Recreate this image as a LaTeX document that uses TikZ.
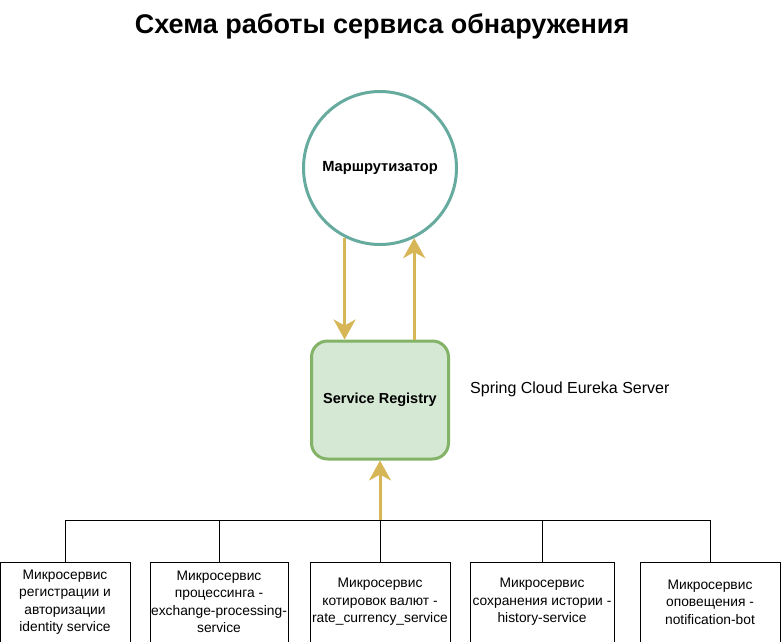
\documentclass[tikz,border=0pt]{standalone}
\usepackage{fontspec}
\setmainfont{Liberation Sans}
\usepackage{xcolor}
\usepackage{tikz}
\usetikzlibrary{positioning,arrows.meta}

\definecolor{routerline}{HTML}{67AB9F}
\definecolor{regfill}{HTML}{D5E8D4}
\definecolor{regline}{HTML}{82B366}
\definecolor{arrowgold}{HTML}{D6B656}

\begin{document}
\begin{tikzpicture}[
  x=1pt, y=-1pt,
  router/.style={draw=routerline, line width=3pt, circle, minimum size=153pt, inner sep=0pt,
    font=\fontsize{14.7}{16}\selectfont\bfseries},
  registry/.style={draw=regline, fill=regfill, line width=3pt, rounded corners=16pt,
    minimum width=137pt, minimum height=118pt, font=\fontsize{14.5}{16}\selectfont\bfseries},
  msbox/.style={draw, line width=1pt, minimum height=80pt, align=center, inner sep=1pt,
    font=\fontsize{13.8}{17.5}\selectfont},
  arrow/.style={-{Stealth[length=20pt, width=22pt, inset=6pt]}, draw=arrowgold, fill=arrowgold, line width=3pt},
  tree/.style={draw=black, line width=1pt}
]
\useasboundingbox (0,0) rectangle (781,641);

\node[font=\fontsize{27}{30}\selectfont\bfseries] (title) at (382,26) {Схема работы сервиса обнаружения};

\node[router] (router) at (380,168) {\raisebox{-2pt}{Маршрутизатор}};
\node[registry] (reg) at (380,400) {\raisebox{-2pt}{Service Registry}};
\node[anchor=west, inner sep=0pt, font=\fontsize{16}{18}\selectfont] (eureka) at (470,389) {Spring Cloud Eureka Server};

\draw[arrow] (router.243.3) -- (router.243.3 |- reg.north);
\draw[arrow] (router.296.7 |- reg.north) -- (router.296.7);

% microservices
\node[msbox, minimum width=130pt] (m1) at (65,602) {Микросервис\\регистрации и\\авторизации\\identity service};
\node[msbox, minimum width=138pt] (m2) at (219,602) {Микросервис\\процессинга -\\exchange-processing-\\service};
\node[msbox, minimum width=140pt] (m3) at (380,602) {Микросервис\\котировок валют -\\rate\_currency\_service};
\node[msbox, minimum width=144pt] (m4) at (542,602) {Микросервис\\сохранения истории -\\history-service};
\node[msbox, minimum width=140pt] (m5) at (710,602) {Микросервис\\оповещения -\\notification-bot};

\coordinate (hub) at (380,520);
\foreach \i in {1,...,5}
  \draw[tree] (m\i.north) |- (hub);
\draw[arrow] (hub) -- (reg.south);
\end{tikzpicture}
\end{document}
